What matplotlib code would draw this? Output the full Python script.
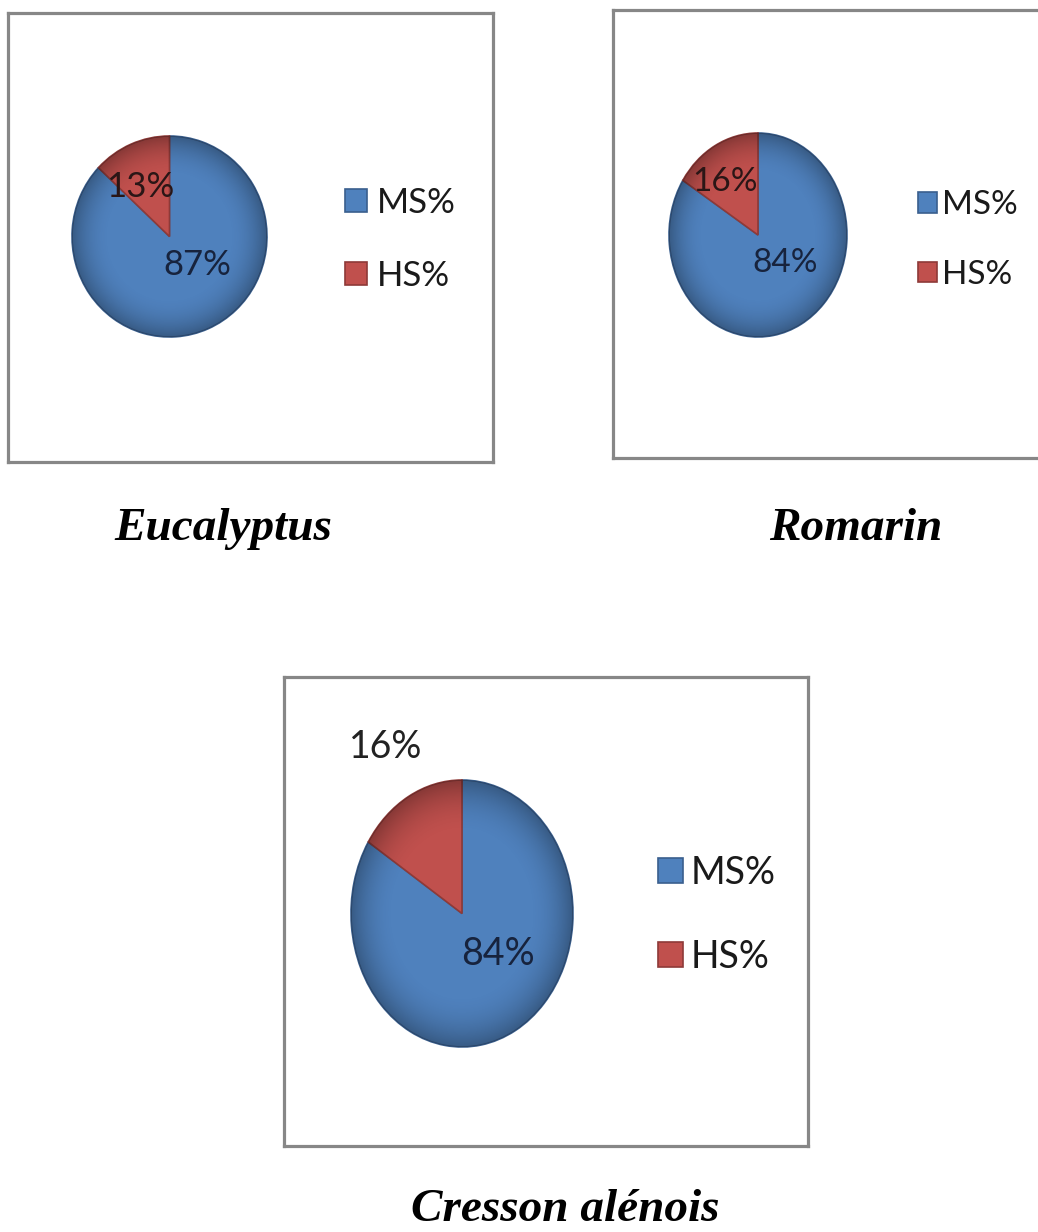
import numpy as np
import matplotlib
matplotlib.use("Agg")
import matplotlib.pyplot as plt

# ---- data ----
categories = ["MS%", "HS%"]
species = ["Eucalyptus", "Romarin", "Cresson alénois"]
eucalyptus_values = [87, 13]
romarin_values = [84, 16]
cresson_values = [84, 16]

W, H = 1038, 1232
fig = plt.figure(figsize=(W / 100, H / 100), dpi=100)
fig.patch.set_facecolor("white")

BLUE = "#4F81BD"
RED = "#C0504D"
EDGES = ["#3A5F8E", "#8E3A38"]


def fbox(x0, y0, x1, y1):
    return [x0 / W, 1 - y1 / H, (x1 - x0) / W, (y1 - y0) / H]


def frame(x0, y0, x1, y1):
    ax = fig.add_axes(fbox(x0, y0, x1, y1))
    ax.set_xticks([]); ax.set_yticks([])
    ax.patch.set_alpha(0)
    for s in ax.spines.values():
        s.set_color("#878787")
        s.set_linewidth(2.3)
    ax.set_zorder(0)
    return ax


def shade(ax, wedges):
    # subtle radial darkening towards the rim to mimic the 3D look
    n = 300
    yy, xx = np.mgrid[-1:1:n * 1j, -1:1:n * 1j]
    r = np.sqrt(xx ** 2 + yy ** 2)
    alpha = np.clip((r - 0.6) / 0.4, 0, 1) ** 2 * 0.30
    img = np.zeros((n, n, 4))
    img[..., 3] = alpha
    for w in wedges:
        im = ax.imshow(img, extent=(-1, 1, -1, 1), origin="lower",
                       zorder=3, interpolation="bilinear", aspect="auto")
        im.set_clip_path(w)


def pie_panel(box, values, label_pos, label_colors, fs, leg_anchor, leg_square,
              leg_pad, leg_spacing):
    x0, y0, x1, y1 = box
    ax = fig.add_axes(fbox(x0, y0, x1, y1))
    wedges, texts, autotexts = ax.pie(
        values, colors=[BLUE, RED], startangle=90, counterclock=False,
        radius=1, autopct="%d%%", pctdistance=0.5,
        wedgeprops=dict(linewidth=1.2),
        textprops=dict(fontsize=fs, family="Lato"))
    for w, ec in zip(wedges, EDGES):
        w.set_edgecolor(ec)
    shade(ax, wedges)
    ax.set_aspect("auto")
    ax.set_xlim(-1, 1)
    ax.set_ylim(-1, 1)
    ax.set_xticks([]); ax.set_yticks([])
    ax.set_frame_on(False)
    ax.patch.set_alpha(0)
    for t, p, c, v in zip(autotexts, label_pos, label_colors, values):
        t.set_text(f"{v}%")
        t.set_position(p)
        t.set_color(c)
        t.set_zorder(5)
        t.set_clip_on(False)
    ax.set_zorder(2)
    lx, ly = leg_anchor
    leg = ax.legend(wedges, categories, loc="center left",
                    bbox_to_anchor=(lx / W, 1 - ly / H),
                    bbox_transform=fig.transFigure, frameon=False,
                    borderpad=0, borderaxespad=0,
                    handlelength=leg_square, handleheight=leg_square,
                    handletextpad=leg_pad, labelspacing=leg_spacing,
                    prop=dict(family="Lato", size=fs))
    for txt in leg.get_texts():
        txt.set_color("#1a1a1a")
    return ax


# frames
frame(8, 13, 493, 462)
frame(613, 10, 1048, 458)
frame(284, 677, 808, 1146)

pie_panel((72, 136, 267, 337), eucalyptus_values,
          [(0.29, -0.28), (-0.30, 0.49)], ["#17233d", "#2a1616"], 25,
          (345, 239.5), 0.63, 0.28, 1.18)
pie_panel((669, 133, 847, 337), romarin_values,
          [(0.30, -0.27), (-0.37, 0.52)], ["#17233d", "#2a1616"], 24,
          (918, 240), 0.57, 0.15, 1.19)
pie_panel((351, 780, 573, 1047), cresson_values,
          [(0.32, -0.30), (-0.69, 1.25)], ["#17233d", "#222222"], 27,
          (658, 914.5), 0.67, 0.21, 1.28)

# titles
title_font = dict(family="Liberation Serif", weight="bold", style="italic",
                  size=34, color="black", ha="center", va="baseline")
fig.text(223.5 / W, 1 - 540 / H, species[0], **title_font)
fig.text(855.5 / W, 1 - 540 / H, species[1], **title_font)
fig.text(565 / W, 1 - 1221 / H, species[2], **title_font)

fig.savefig("out.png", dpi=100, facecolor="white")
